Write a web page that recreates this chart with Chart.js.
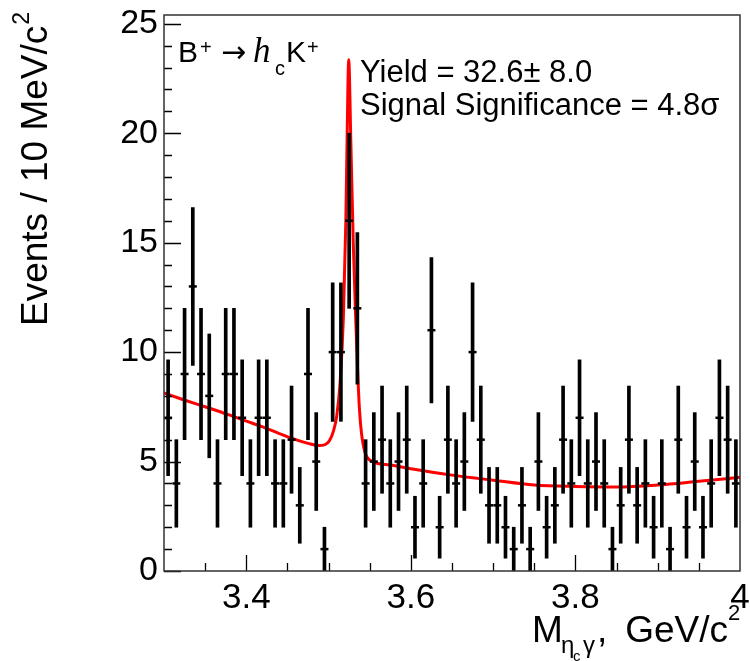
<!DOCTYPE html>
<html>
<head>
<meta charset="utf-8">
<title>B+ -> hc K+ mass fit</title>
<script src="https://cdn.jsdelivr.net/npm/chart.js@4.4.1/dist/chart.umd.min.js"></script>
<style>
    html, body { margin: 0; padding: 0; background: #fff; }
    #wrap { width: 750px; height: 661px; position: relative; }
</style>
</head>
<body>
<div id="wrap"><canvas id="grafico_massa"></canvas></div>
<script>
// Histogram binning (GeV/c^2)
const binStart = 3.30;
const binWidth = 0.01;

// Events per 10 MeV bin, 3.30 -> 4.00
const counts = [
    7, 4, 9, 13, 9, 8, 4, 9, 9, 7,
    4, 7, 7, 4, 4, 6, 3, 9, 5, 1,
    10, 10, 16, 12, 4, 5, 6, 4, 5, 6,
    2, 4, 11, 2, 6, 4, 5, 10, 6, 3,
    3, 2, 1, 3, 1, 5, 2, 3, 6, 4,
    7, 4, 5, 4, 1, 3, 6, 3, 4, 2,
    4, 1, 6, 2, 5, 2, 4, 7, 6, 4
];

// Fit curve (signal + background), sampled points
const fitX = [
    3.300, 3.320, 3.340, 3.360, 3.380, 3.400, 3.420, 3.440, 3.460, 3.475,
    3.488, 3.496, 3.501, 3.506, 3.510, 3.514, 3.518, 3.521, 3.5225, 3.5245,
    3.527, 3.530, 3.533, 3.5355, 3.5375, 3.540, 3.544, 3.550, 3.575, 3.600,
    3.650, 3.700, 3.750, 3.800, 3.850, 3.900, 3.950, 4.000
];
const fitY = [
    8.13, 7.87, 7.62, 7.38, 7.12, 6.85, 6.58, 6.28, 6.00, 5.83,
    5.73, 5.78, 5.95, 6.40, 7.10, 8.60, 11.6, 16.0, 19.7, 23.35,
    19.7, 15.0, 11.5, 9.0, 7.4, 6.3, 5.45, 5.07, 4.84, 4.67,
    4.38, 4.15, 3.93, 3.86, 3.84, 3.93, 4.10, 4.28
];

// Labelled axis ticks
const xTickLabels = [3.4, 3.6, 3.8, 4.0];
const yTickLabels = [0, 5, 10, 15, 20, 25];

const SANS = "'Liberation Sans', Arial, Helvetica, sans-serif";
const SERIF = "'Liberation Serif', 'Times New Roman', serif";

// Frame, inward ticks and all the LaTeX-like text
const framePlugin = {
    id: 'framePlugin',
    afterDraw(chart) {
        const { ctx, chartArea: a, scales: { x, y } } = chart;
        ctx.save();

        // ticks
        ctx.strokeStyle = '#000';
        ctx.lineWidth = 1.3;
        ctx.beginPath();
        for (let v = 0; v <= 25; v++) {
            const py = Math.round(y.getPixelForValue(v)) + 0.5;
            const len = v % 5 === 0 ? 17 : 8;
            ctx.moveTo(a.left, py);
            ctx.lineTo(a.left + len, py);
        }
        for (let i = 1; i < 14; i++) {
            const v = binStart + i * 0.05;
            const px = Math.round(x.getPixelForValue(v)) + 0.5;
            const major = xTickLabels.some(t => Math.abs(t - v) < 1e-6);
            const len = major ? 16 : 8;
            ctx.moveTo(px, a.bottom);
            ctx.lineTo(px, a.bottom - len);
        }
        ctx.stroke();

        // frame
        ctx.lineWidth = 1.5;
        ctx.strokeStyle = '#333';
        ctx.strokeRect(a.left, a.top, a.right - a.left, a.bottom - a.top);

        ctx.fillStyle = '#000';
        ctx.textBaseline = 'alphabetic';
        ctx.textAlign = 'left';

        // decay label
        ctx.font = `30px ${SANS}`;
        ctx.fillText('B', 178, 62);
        ctx.font = `20px ${SANS}`;
        ctx.fillText('+', 200, 54);
        ctx.font = `30px 'DejaVu Sans', sans-serif`;
        ctx.fillText('\u2192', 221, 62);
        ctx.font = `italic 35px ${SERIF}`;
        ctx.fillText('h', 253, 62);
        ctx.font = `20px ${SANS}`;
        ctx.fillText('c', 275, 75);
        ctx.font = `30px ${SANS}`;
        ctx.fillText('K', 286, 62);
        ctx.font = `20px ${SANS}`;
        ctx.fillText('+', 307, 54);

        // fit results
        ctx.font = `31px ${SANS}`;
        ctx.fillText('Yield = 32.6\u00b1 8.0', 360, 82);
        ctx.fillText('Signal Significance = 4.8\u03c3', 360, 115);

        // x axis title
        ctx.font = `37px ${SANS}`;
        ctx.fillText('M', 532, 642);
        ctx.font = `24px ${SANS}`;
        ctx.fillText('\u03b7', 561, 653);
        ctx.font = `15px ${SANS}`;
        ctx.fillText('c', 573, 661);
        ctx.font = `24px ${SANS}`;
        ctx.fillText('\u03b3', 583, 653);
        ctx.font = `37px ${SANS}`;
        ctx.fillText(',', 597, 642);
        ctx.textAlign = 'right';
        ctx.fillText('GeV/c', 728, 642);
        ctx.textAlign = 'left';
        ctx.font = `22px ${SANS}`;
        ctx.fillText('2', 728, 620);

        // y axis title (rotated)
        ctx.translate(47, 326);
        ctx.rotate(-Math.PI / 2);
        ctx.font = `37px ${SANS}`;
        const main = 'Events / 10 MeV/c';
        ctx.fillText(main, 0, 0);
        const w = ctx.measureText(main).width;
        ctx.font = `23px ${SANS}`;
        ctx.fillText('2', w + 1, -18);

        ctx.restore();
    }
};

function createMassChart() {
    const ctx = document.getElementById('grafico_massa').getContext('2d');

    const centers = counts.map((n, i) => binStart + binWidth * (i + 0.5));
    const points = counts.map((n, i) => ({ x: centers[i], y: n }));
    const errorBars = counts.map((n, i) => ({ x: centers[i], y: [n - Math.sqrt(n), n + Math.sqrt(n)] }));
    const fitCurve = fitX.map((v, i) => ({ x: v, y: fitY[i] }));

    new Chart(ctx, {
        type: 'scatter',
        data: {
            datasets: [
                {
                    type: 'line',
                    label: 'fit',
                    data: fitCurve,
                    borderColor: '#ff0000',
                    borderWidth: 3,
                    pointRadius: 0,
                    cubicInterpolationMode: 'monotone',
                    order: 3
                },
                {
                    type: 'bar',
                    label: 'errors',
                    data: errorBars,
                    backgroundColor: '#000',
                    borderWidth: 0,
                    barThickness: 3,
                    order: 2
                },
                {
                    label: 'data',
                    data: points,
                    pointStyle: 'line',
                    pointRadius: 4,
                    pointBorderWidth: 2.5,
                    borderColor: '#000',
                    backgroundColor: '#000',
                    order: 1
                }
            ]
        },
        options: {
            responsive: true,
            maintainAspectRatio: false,
            animation: false,
            events: [],
            layout: { padding: { top: 15, right: 10, bottom: 0, left: 0 } },
            plugins: {
                legend: { display: false },
                tooltip: { enabled: false },
                title: { display: false }
            },
            scales: {
                x: {
                    type: 'linear',
                    min: 3.3,
                    max: 4.0,
                    offset: false,
                    grid: { display: false, drawTicks: false },
                    border: { display: false },
                    afterBuildTicks: scale => { scale.ticks = xTickLabels.map(v => ({ value: v })); },
                    afterFit: scale => {
                        scale.height = 90;
                        scale.paddingLeft = 0;
                        scale.paddingRight = 0;
                    },
                    ticks: {
                        color: '#000',
                        padding: 6,
                        maxRotation: 0,
                        autoSkip: false,
                        font: { family: SANS, size: 35 },
                        callback: v => String(Math.round(v * 10) / 10)
                    }
                },
                y: {
                    min: 0,
                    max: 25.4,
                    grid: { display: false, drawTicks: false },
                    border: { display: false },
                    afterBuildTicks: scale => { scale.ticks = yTickLabels.map(v => ({ value: v })); },
                    afterFit: scale => {
                        scale.width = 164;
                        scale.paddingTop = 0;
                        scale.paddingBottom = 0;
                    },
                    ticks: {
                        color: '#000',
                        padding: 6,
                        autoSkip: false,
                        font: { family: SANS, size: 34 }
                    }
                }
            }
        },
        plugins: [framePlugin]
    });
}

createMassChart();
</script>
</body>
</html>
